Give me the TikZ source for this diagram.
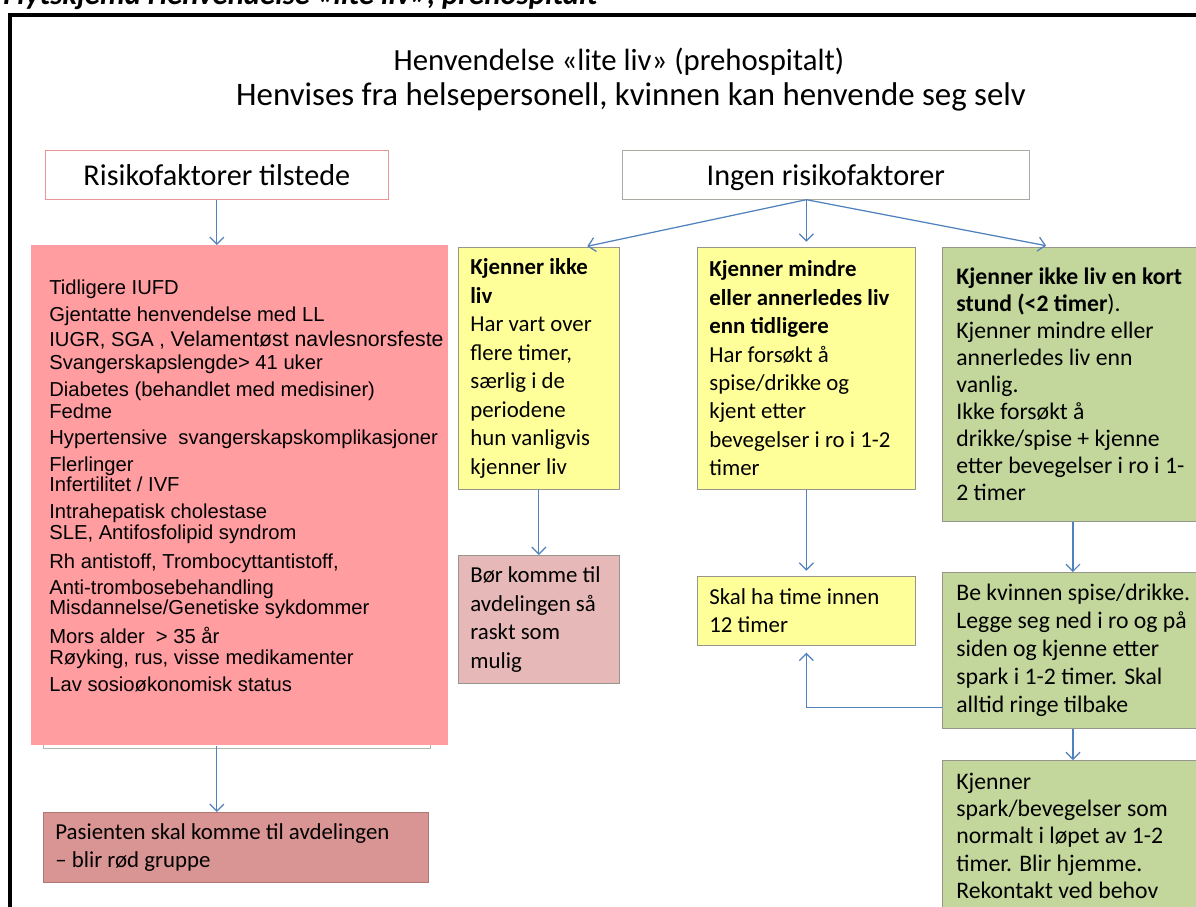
\documentclass[tikz,border=0pt]{standalone}
\usepackage{fontspec}
\setmainfont{Carlito}
\newfontfamily\arialfont{Liberation Sans}
\usetikzlibrary{arrows.meta}

\definecolor{pilblaa}{RGB}{79,129,189}
\definecolor{rosa}{RGB}{255,157,161}
\definecolor{moerkrosa}{RGB}{217,149,148}
\definecolor{lysrosa}{RGB}{230,185,184}
\definecolor{gulfyll}{RGB}{255,255,153}
\definecolor{gronnfyll}{RGB}{195,214,155}
\definecolor{kantgraa}{RGB}{150,150,140}
\definecolor{kantrod}{RGB}{235,150,150}

\begin{document}
\begin{tikzpicture}[x=0.02cm,y=-0.02cm,
  boks/.style={anchor=north west,align=flush left,inner xsep=0.24cm,inner ysep=0pt,
    font=\fontsize{13pt}{16.2pt}\selectfont},
  gul/.style={boks,fill=gulfyll,draw=kantgraa},
  gronn/.style={boks,fill=gronnfyll,draw=kantgraa,inner xsep=0.28cm,
    text width=5cm,font=\fontsize{13.5pt}{15.9pt}\selectfont},
  overskrift/.style={anchor=north west,inner sep=0pt,minimum height=0.98cm,
    text height=15pt,text depth=3.1pt,font=\fontsize{17.2pt}{20pt}\selectfont},
  listetekst/.style={anchor=base west,inner sep=0pt,
    font=\arialfont\fontsize{11.5pt}{13pt}\selectfont},
  pil/.style={draw=pilblaa,line width=0.7pt,
    -{Straight Barb[length=4pt,width=8pt]}}]

\useasboundingbox (0,0) rectangle (1196,906);
\fill[white] (0,0) rectangle (1196,906);

% tittel som er kuttet i toppen
\node[anchor=base west,inner sep=0pt,font=\bfseries\itshape\fontsize{17.5pt}{20pt}\selectfont]
  (topptekst) at (3,5) {Flytskjema Henvendelse «lite liv», prehospitalt};

% svart ramme
\draw[line width=2.8pt] (10,960) -- (10,15) -- (1260,15);

% --- overskrift ---
\node[font=\fontsize{17.5pt}{20pt}\selectfont] (tittel1) at (619,62)
  {Henvendelse «lite liv» (prehospitalt)};
\node[font=\fontsize{18.7pt}{20pt}\selectfont] (tittel2) at (631,97)
  {Henvises fra helsepersonell, kvinnen kan henvende seg selv};

% --- venstre gren: risikofaktorer ---
\node[overskrift,draw=kantrod,minimum width=6.86cm] (risiko) at (45,150)
  {Risikofaktorer tilstede};

\draw[draw=kantgraa!70] (43,700) -- (43,748) -- (430,748) -- (430,700);
\node[anchor=north west,fill=rosa,inner sep=0pt,minimum width=8.34cm,
  minimum height=10cm] (liste) at (31,245) {};

\foreach \yy/\tekst [count=\i] in {
  294/{Tidligere IUFD},
  321/{Gjentatte henvendelse med LL},
  346/{IUGR, SGA , {\fontsize{12.1pt}{13pt}\selectfont Velamentøst navlesnorsfeste}},
  369/{Svangerskapslengde> 41 uker},
  396/{Diabetes (behandlet med medisiner)},
  418/{Fedme},
  444/{Hypertensive\ \ svangerskapskomplikasjoner},
  471/{Flerlinger},
  491/{Infertilitet / IVF},
  518/{Intrahepatisk cholestase},
  539/{SLE, Antifosfolipid syndrom},
  568/{Rh antistoff, Trombocyttantistoff,},
  594/{Anti-trombosebehandling},
  614/{Misdannelse/Genetiske sykdommer},
  643/{Mors alder\ \ > 35 år},
  664/{Røyking, rus, visse medikamenter},
  691/{Lav sosioøkonomisk status}}
  \node[listetekst] (rf\i) at (49,\yy) {\tekst};

\node[boks,fill=moerkrosa,draw=moerkrosa!80!black,text width=7.22cm,
  minimum height=1.4cm] (pasient) at (43,812)
  {Pasienten skal komme til avdelingen\\– blir rød gruppe};

\draw[pil] (risiko.south) -- (risiko.south |- liste.north);
\draw[pil] (risiko.south |- liste.south) -- (risiko.south |- pasient.north);

% --- hoyre gren: ingen risikofaktorer ---
\node[overskrift,draw=kantgraa!80,minimum width=8.14cm] (ingen) at (622,150)
  {Ingen risikofaktorer};

\node[gul,text width=2.74cm,minimum height=4.84cm] (ikkeliv) at (458,247)
  {\textbf{Kjenner ikke}\\\textbf{liv}\\Har vart over\\flere timer,\\særlig i de\\
   periodene\\hun vanligvis\\kjenner liv};
\node[gul,text width=3.88cm,minimum height=4.84cm] (mindre) at (697,247)
  {\textbf{Kjenner mindre}\\\textbf{eller annerledes liv}\\\textbf{enn tidligere}\\
   Har forsøkt å\\spise/drikke og\\kjent etter\\bevegelser i ro i 1-2\\timer};
\node[gronn,minimum height=5.48cm,font=\fontsize{13.5pt}{15.4pt}\selectfont]
  (kort) at (942,247)
  {\textbf{Kjenner ikke liv en kort}\\\textbf{stund (<2 timer}).\\
   Kjenner mindre eller\\annerledes liv enn\\vanlig.\\Ikke forsøkt å\\
   drikke/spise + kjenne\\etter bevegelser i ro i 1-\\2 timer};

\node[boks,fill=lysrosa,draw=kantgraa,text width=2.74cm,minimum height=2.56cm]
  (boerkomme) at (458,555) {Bør komme til\\avdelingen så\\raskt som\\mulig};
\node[gul,text width=3.88cm,minimum height=1.38cm] (tolv) at (697,576)
  {Skal ha time innen\\12 timer};
\node[gronn,minimum height=3.12cm] (spise) at (942,572)
  {Be kvinnen spise/drikke.\\Legge seg ned i ro og på\\siden og kjenne etter\\
   spark i 1-2 timer. Skal\\alltid ringe tilbake};
\node[gronn,minimum height=3.02cm,font=\fontsize{13.5pt}{15.6pt}\selectfont]
  (hjemme) at (942,760)
  {Kjenner\\spark/bevegelser som\\normalt i løpet av 1-2\\timer. Blir hjemme.\\
   Rekontakt ved behov};

\coordinate (forgrening) at (mindre.north |- ingen.south);
\draw[pil,shorten >=2pt] (forgrening) -- ([xshift=0.9cm]ikkeliv.north);
\draw[pil,shorten >=3pt] (forgrening) -- (mindre.north);
\draw[pil,shorten >=4pt] (forgrening) -- ([xshift=2.22cm]kort.north west);

\draw[pil] (ikkeliv.south) -- (boerkomme.north);
\draw[pil,shorten >=3pt] (mindre.south) -- (tolv.north);
\draw[pil] ([xshift=2.62cm]kort.south west) -- ([xshift=2.62cm]spise.north west);
\draw[pil] ([xshift=2.62cm]spise.south west) -- ([xshift=2.62cm]hjemme.north west);
\draw[pil,shorten >=4pt] ([yshift=-1.14cm]spise.west) -| (tolv.south);

\end{tikzpicture}
\end{document}
